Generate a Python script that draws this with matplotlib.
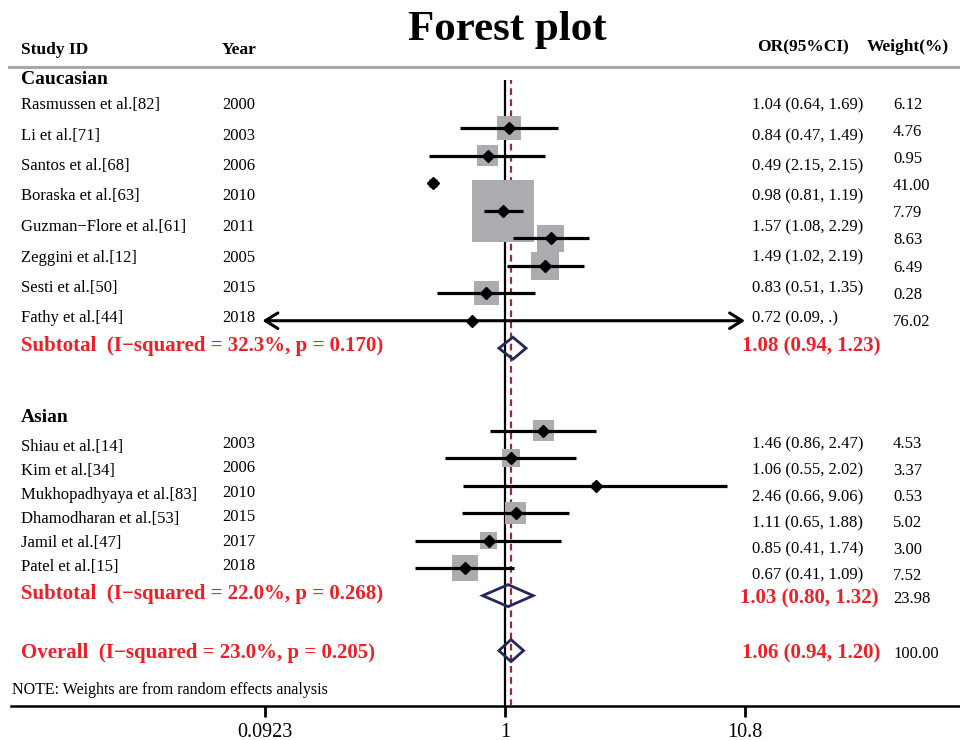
import matplotlib
matplotlib.use('Agg')
import matplotlib.pyplot as plt
from matplotlib.patches import Polygon
import numpy as np

plt.rcParams['font.family'] = ['Liberation Serif', 'DejaVu Serif']

# ---- data ----
cau_study = ['Rasmussen et al.[82]', 'Li et al.[71]', 'Santos et al.[68]', 'Boraska et al.[63]',
             'Guzman\u2212Flore et al.[61]', 'Zeggini et al.[12]', 'Sesti et al.[50]', 'Fathy et al.[44]']
cau_year = ['2000', '2003', '2006', '2010', '2011', '2005', '2015', '2018']
cau_or = [1.04, 0.84, 0.49, 0.98, 1.57, 1.49, 0.83, 0.72]
cau_lo = [0.64, 0.47, 2.15, 0.81, 1.08, 1.02, 0.51, 0.09]
cau_hi = [1.69, 1.49, 2.15, 1.19, 2.29, 2.19, 1.35, None]
cau_wt = [6.12, 4.76, 0.95, 41.00, 7.79, 8.63, 6.49, 0.28]
cau_sub = [1.08, 0.94, 1.23]
cau_sub_wt = 76.02
cau_sub_label = 'Subtotal  (I\u2212squared = 32.3%, p = 0.170)'

asn_study = ['Shiau et al.[14]', 'Kim et al.[34]', 'Mukhopadhyaya et al.[83]',
             'Dhamodharan et al.[53]', 'Jamil et al.[47]', 'Patel et al.[15]']
asn_year = ['2003', '2006', '2010', '2015', '2017', '2018']
asn_or = [1.46, 1.06, 2.46, 1.11, 0.85, 0.67]
asn_lo = [0.86, 0.55, 0.66, 0.65, 0.41, 0.41]
asn_hi = [2.47, 2.02, 9.06, 1.88, 1.74, 1.09]
asn_wt = [4.53, 3.37, 0.53, 5.02, 3.00, 7.52]
asn_sub = [1.03, 0.80, 1.32]
asn_sub_wt = 23.98
asn_sub_label = 'Subtotal  (I\u2212squared = 22.0%, p = 0.268)'

overall = [1.06, 0.94, 1.20]
overall_wt = 100.00
overall_label = 'Overall  (I\u2212squared = 23.0%, p = 0.205)'

x_ticks = [0.0923, 1, 10.8]
x_ticklabels = ['0.0923', '1', '10.8']

RED = '#ee1f26'
NAVY = '#25265c'
GRAY = '#acacb0'


def ci_text(o, l, h):
    hs = '.' if h is None else f'{h:.2f}'
    return f'{o:.2f} ({l:.2f}, {hs})'


W, H = 960, 740
fig = plt.figure(figsize=(W / 100, H / 100), dpi=100)

# text layer in pixel coordinates
tx = fig.add_axes([0, 0, 1, 1])
tx.set_xlim(0, W)
tx.set_ylim(H, 0)
tx.axis('off')

# forest layer: log x, rows on y
top_px, bot_px, left_px, right_px = 80, 706, 265, 745
row0_px, row_step = 128.3, 27.49
ax = fig.add_axes([left_px / W, (H - bot_px) / H, (right_px - left_px) / W, (bot_px - top_px) / H])
ax.patch.set_alpha(0)
ax.set_xscale('log')
ax.set_xlim(x_ticks[0], x_ticks[-1])
ax.set_ylim((bot_px - row0_px) / row_step, (top_px - row0_px) / row_step)
for s in ax.spines.values():
    s.set_visible(False)
ax.set_yticks([])
ax.set_xticks(x_ticks)
ax.set_xticklabels(x_ticklabels, fontsize=14.5)
ax.minorticks_off()
ax.tick_params(axis='x', direction='out', length=8, width=2, pad=4)

ax.axvline(1, color='black', lw=1.6, zorder=1)
ax.axvline(overall[0], color='#9a2a3a', lw=1.6, ls=(0, (3, 2)), zorder=1)

cau_rows = np.arange(len(cau_or))
asn_rows = np.arange(len(asn_or)) + 11
cau_sub_row, asn_sub_row, overall_row = 8, 17, 19


def draw_group(rows, ors, los, his, wts):
    side_px = 9.6 * np.sqrt(wts)
    ax.scatter(ors, rows, s=(side_px * 0.72) ** 2, marker='s', color=GRAY, lw=0, zorder=2)
    for r, o, l, h in zip(rows, ors, los, his):
        if h is None:
            ax.annotate('', xy=(l, r), xytext=(ax.get_xlim()[1], r),
                        arrowprops=dict(arrowstyle='<->,head_length=0.45,head_width=0.28',
                                        lw=2.2, color='black', shrinkA=0, shrinkB=0,
                                        mutation_scale=20),
                        annotation_clip=False, zorder=3)
        else:
            ax.plot([l, h], [r, r], color='black', lw=2.3, solid_capstyle='butt', zorder=3)
    ax.plot(ors, rows, 'D', color='black', ms=6.5, zorder=4)


def draw_diamond(row, vals, half=0.4):
    o, l, h = vals
    ax.add_patch(Polygon([(l, row), (o, row - half), (h, row), (o, row + half)],
                         closed=True, fill=False, edgecolor=NAVY, lw=2, zorder=3))


draw_group(cau_rows, cau_or, cau_lo, cau_hi, cau_wt)
draw_group(asn_rows, asn_or, asn_lo, asn_hi, asn_wt)
draw_diamond(cau_sub_row, cau_sub)
draw_diamond(asn_sub_row, asn_sub)
draw_diamond(overall_row, overall)

# ---- header ----
tx.text(507, 30, 'Forest plot', fontsize=31, fontweight='bold', ha='center', va='center')
hdr = dict(fontsize=12.5, fontweight='bold', va='center')
tx.text(21, 50, 'Study ID', **hdr)
tx.text(222, 50, 'Year', **hdr)
tx.text(757, 47, 'OR(95%CI)', **hdr)
tx.text(867, 47, 'Weight(%)', **hdr)
tx.plot([9, W], [67, 67], color='#a9a9a9', lw=2.2)

# ---- left columns ----
tx.text(21, 80, 'Caucasian', fontsize=14, fontweight='bold', va='center')
for i, (name, yr) in enumerate(zip(cau_study, cau_year)):
    y = 105 + i * 30.5
    tx.text(21, y, name, fontsize=12, va='center')
    tx.text(222, y, yr, fontsize=12, va='center')
tx.text(21, 346, cau_sub_label, fontsize=15, fontweight='bold', color=RED, va='center')

tx.text(21, 418, 'Asian', fontsize=14, fontweight='bold', va='center')
for i, (name, yr) in enumerate(zip(asn_study, asn_year)):
    tx.text(21, 447 + i * 24, name, fontsize=12, va='center')
    tx.text(222, 443.5 + i * 24.6, yr, fontsize=12, va='center')
tx.text(21, 594, asn_sub_label, fontsize=15, fontweight='bold', color=RED, va='center')
tx.text(21, 653, overall_label, fontsize=15, fontweight='bold', color=RED, va='center')
tx.text(12, 690, 'NOTE: Weights are from random effects analysis', fontsize=11.5, va='center')

# ---- right columns ----
for i, (o, l, h) in enumerate(zip(cau_or, cau_lo, cau_hi)):
    tx.text(752, 105.5 + i * 30.4, ci_text(o, l, h), fontsize=12, va='center')
tx.text(742, 346, ci_text(*cau_sub), fontsize=15, fontweight='bold', color=RED, va='center')
for i, w in enumerate(cau_wt + [cau_sub_wt]):
    tx.text(893, 105 + i * 27.1, f'{w:.2f}', fontsize=12, va='center')

for i, (o, l, h) in enumerate(zip(asn_or, asn_lo, asn_hi)):
    tx.text(752, 444.3 + i * 26.3, ci_text(o, l, h), fontsize=12, va='center')
    tx.text(893, 444.3 + i * 26.3, f'{asn_wt[i]:.2f}', fontsize=12, va='center')
tx.text(740, 598, ci_text(*asn_sub), fontsize=15, fontweight='bold', color=RED, va='center')
tx.text(893, 599, f'{asn_sub_wt:.2f}', fontsize=12, va='center')
tx.text(742, 653, ci_text(*overall), fontsize=15, fontweight='bold', color=RED, va='center')
tx.text(893, 654, f'{overall_wt:.2f}', fontsize=12, va='center')

# bottom axis line across the whole width
tx.plot([11, W], [706, 706], color='black', lw=1.8)

fig.savefig('out.png', dpi=100)
